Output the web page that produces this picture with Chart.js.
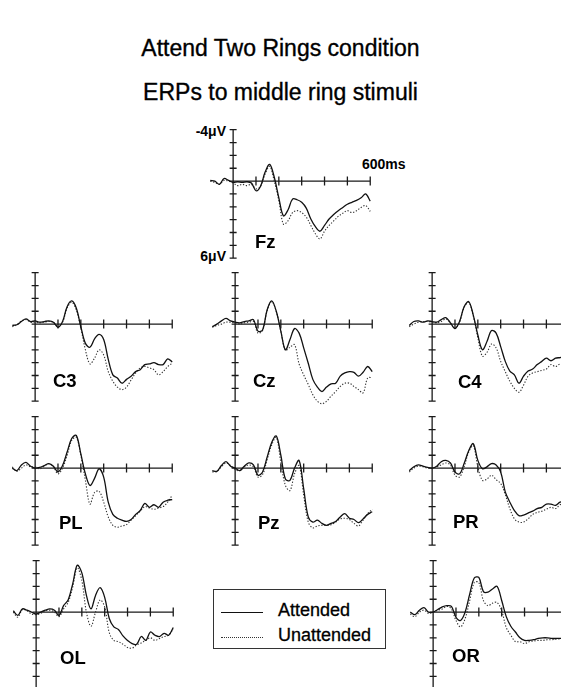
<!DOCTYPE html>
<html>
<head>
<meta charset="utf-8">
<script src="https://cdn.jsdelivr.net/npm/chart.js@4/dist/chart.umd.min.js"></script>
<style>
  html, body { margin:0; padding:0; background:#fff; }
  body { width:561px; height:687px; overflow:hidden; position:relative;
         font-family:"Liberation Sans", Arial, Helvetica, sans-serif; color:#000; }
  .t { position:absolute; white-space:nowrap; line-height:1; }
  canvas { position:absolute; }
  .title { left:0; width:561px; text-align:center; font-size:23px; -webkit-text-stroke:0.35px #000; }
  .lab { font-size:18.5px; font-weight:bold; }
  .unit { font-size:14px; font-weight:bold; }
  #legend { position:absolute; left:213px; top:589px; width:171px; height:58px; border:1.3px solid #333; }
  .ls { position:absolute; left:7px; width:42px; height:0; }
  .lt { font-size:18px; -webkit-text-stroke:0.3px #000; }
</style>
</head>
<body>
<div class="t title" style="top:37px">Attend Two Rings condition</div>
<div class="t title" style="top:81px">ERPs to middle ring stimuli</div>

<div class="t unit" style="right:335px; top:124px">-4μV</div>
<div class="t unit" style="right:335px; top:249px">6μV</div>
<div class="t unit" style="left:362px; top:157px">600ms</div>

<div id="legend">
  <div class="ls" style="top:22px; border-top:1.3px solid #111"></div>
  <div class="t lt" style="left:64px; top:11px">Attended</div>
  <div class="ls" style="top:47px; border-top:1.2px dotted #333"></div>
  <div class="t lt" style="left:64px; top:36px">Unattended</div>
</div>

<script>
// ---- data (time in ms, amplitude in µV; negative plotted up) ----
const TIMES = [-100,-80,-60,-40,-20,0,20,40,60,80,100,120,140,160,180,200,220,240,260,280,300,320,340,360,380,400,420,440,460,480,500,520,540,560,580,600];
const X_TICKS = [100,200,300,400,500,600];
const Y_TICKS = [-4,-3,-2,-1,0,1,2,3,4,5,6];
const SERIES = ["Attended","Unattended"];

const FZ_ATT = [-0.05,0,0.25,-0.2,-0.05,0.1,0.05,0.1,0.05,0.15,0.75,0.4,-0.7,-1.3,-0.3,1.3,2.7,2.25,1.4,1.45,1.65,2.1,2.95,3.55,3.9,3.45,2.95,2.6,2.3,2.05,1.8,1.65,1.5,1.3,1.0,1.55];
const FZ_UN  = [0,0.1,0.25,-0.05,0,0.15,0.35,0.25,0.35,0.25,0.6,0.4,-0.55,-1.15,0,1.5,3.35,3.1,2.45,2.3,2.45,2.8,3.45,4.1,4.5,3.9,3.45,3.1,2.75,2.5,2.3,2.45,2.3,2.05,1.9,2.35];

const C3_ATT = [0.1,0.05,-0.2,-0.4,-0.2,-0.25,-0.15,-0.2,-0.25,-0.15,0.25,-0.2,-1.35,-1.8,-1.25,0.2,1.5,1.8,1.15,0.8,1.2,2.75,3.95,4.2,4.6,4.3,4.05,3.7,3.55,3.15,3.1,3.0,3.15,3.15,2.7,2.95];
const C3_UN  = [0.2,0.05,-0.25,-0.35,-0.15,-0.15,-0.1,-0.15,-0.2,-0.15,0.2,-0.15,-1.25,-1.7,-1.1,0.3,2.0,3.1,2.65,2.0,2.4,3.7,4.45,4.9,5.1,4.9,4.35,3.8,3.4,3.3,3.4,3.55,3.95,3.7,3.3,3.05];

const CZ_ATT = [0.2,0,-0.25,-0.45,-0.25,-0.15,-0.1,-0.2,-0.25,-0.35,0.55,0.45,-1.1,-1.8,-1.0,0.55,2.0,1.2,0.35,0.7,1.85,3.05,4.3,4.9,5.25,4.9,4.65,4.6,4.05,3.8,3.7,3.75,4.05,3.75,3.3,3.7];
const CZ_UN  = [0.25,0.1,0,-0.15,-0.15,-0.1,0,-0.1,-0.15,-0.2,0.7,0.5,-1.05,-1.75,-1.0,0.55,2.05,1.8,1.6,3.1,3.95,4.7,5.5,6.0,6.2,6.0,5.6,5.25,4.85,4.6,4.6,4.85,5.1,5.35,4.2,4.15];

const C4_ATT = [0.1,-0.2,-0.25,-0.15,-0.25,-0.2,-0.15,-0.35,-0.5,-0.1,0.35,-0.2,-1.35,-1.75,-0.7,0.85,2.0,1.35,0.5,0.7,1.75,2.9,3.65,3.95,4.6,4.05,3.65,3.5,3.15,2.9,2.65,2.85,2.65,2.6,2.5,2.45];
const C4_UN  = [0.2,0,-0.15,-0.2,-0.2,-0.15,-0.1,-0.2,-0.4,-0.1,0.3,-0.15,-1.3,-1.7,-0.65,1.05,2.5,2.2,1.55,1.85,2.9,3.7,4.45,5.0,5.3,4.75,4.05,3.8,3.7,3.6,3.5,3.15,3.3,3.1,3.15,3.05];

const PL_ATT = [0,0.2,-0.25,-0.45,-0.15,0,-0.05,-0.2,-0.35,-0.15,0.3,-0.2,-1.25,-2.3,-2.55,-1.1,0.45,1.35,0.8,0.05,0.7,2.65,3.6,3.9,4.05,4.15,4.0,3.6,3.3,2.75,3.05,2.85,3.05,2.65,2.5,2.45];
const PL_UN  = [-0.1,0.25,0,-0.25,-0.1,-0.1,0.05,-0.15,-0.35,-0.1,0.45,0,-1.0,-2.15,-2.4,-1.0,0.95,2.8,1.9,1.8,2.65,3.8,4.45,4.6,4.5,4.4,4.05,3.7,3.35,3.0,3.1,3.2,3.1,3.0,2.65,2.1];

const PZ_ATT = [0.2,0.25,-0.2,-0.5,-0.15,0,0.2,-0.15,-0.4,-0.25,0.55,0.3,-0.85,-2.0,-2.5,-1.0,0.85,0.95,0,-0.6,1.6,3.8,4.2,4.05,4.3,4.45,4.3,4.15,3.8,3.55,3.9,4.0,4.25,3.95,3.6,3.4];
const PZ_UN  = [0.3,0.25,-0.1,-0.4,-0.2,0.1,0.2,-0.1,-0.25,-0.1,0.7,0.5,-0.65,-1.8,-2.4,-0.45,1.35,1.75,0.45,-0.2,2.1,4.2,4.65,4.5,4.45,4.45,4.4,4.2,3.95,3.9,4.0,4.3,4.5,4.05,3.55,3.2];

const PR_ATT = [0.2,-0.1,-0.25,-0.15,-0.05,0,-0.15,-0.5,-0.6,-0.4,0.3,0.45,-0.35,-1.35,-1.9,-0.6,0.05,-0.1,-0.35,-0.25,0.3,1.85,2.65,3.3,3.7,3.65,3.5,3.35,3.15,3.05,2.8,2.8,2.9,2.65,2.6,2.5];
const PR_UN  = [0.3,0,-0.15,-0.1,0,0,-0.1,-0.25,-0.4,-0.25,0.55,0.7,-0.1,-1.25,-1.75,-0.1,0.95,0.85,0.55,0.9,1.2,2.05,3.15,3.95,4.2,4.2,3.95,3.6,3.45,3.35,3.2,3.05,3.15,2.85,2.75,2.7];

const OL_ATT = [-0.1,0.25,-0.25,-0.15,0,0.15,0,-0.15,-0.25,-0.15,0.25,-0.5,-0.95,-2.2,-3.65,-3.05,-1.3,-0.25,-1.3,-1.9,-1.15,0.5,1.15,1.35,1.85,2.2,2.45,2.5,1.9,2.2,1.55,1.8,1.9,1.65,1.8,1.2];
const OL_UN  = [0,0.4,-0.2,-0.1,0.15,0.2,0.1,-0.1,-0.15,0,0.35,-0.25,-0.75,-1.95,-3.45,-2.45,0,1.1,0,-0.95,-0.4,1.6,2.2,2.3,2.5,2.75,2.8,2.55,2.4,2.2,2.0,2.2,2.05,1.9,1.8,1.3];

const OR_ATT = [0,0.2,-0.15,-0.35,0,0,-0.2,-0.4,-0.5,-0.45,0.4,0.65,0,-1.4,-2.65,-2.7,-1.6,-1.55,-1.8,-2.0,-0.9,0.35,1.1,1.55,2.0,2.2,2.2,2.15,2.05,2.0,2.0,2.05,2.05,2.05,2.05,2.05];
const OR_UN  = [0.15,0.35,0,-0.15,0.1,0,-0.15,-0.25,-0.45,-0.25,0.65,1.15,0.5,-0.9,-2.3,-2.3,-0.9,-0.5,-0.7,-0.75,-0.1,1.2,1.8,2.3,2.3,2.45,2.3,2.25,2.2,2.2,2.15,2.15,2.1,2.1,2.1,2.1];

// ---- layout (pixel origin of each panel's axes and label position) ----
const PANELS = [
  {name:"Fz", att:FZ_ATT, un:FZ_UN, ox:233, oy:181, lx:255, lb:249},
  {name:"C3", att:C3_ATT, un:C3_UN, ox:35,  oy:324, lx:53,  lb:388},
  {name:"Cz", att:CZ_ATT, un:CZ_UN, ox:235, oy:324, lx:253, lb:388},
  {name:"C4", att:C4_ATT, un:C4_UN, ox:432, oy:324, lx:458, lb:389},
  {name:"PL", att:PL_ATT, un:PL_UN, ox:35,  oy:468, lx:59,  lb:530},
  {name:"Pz", att:PZ_ATT, un:PZ_UN, ox:235, oy:468, lx:258, lb:530},
  {name:"PR", att:PR_ATT, un:PR_UN, ox:432, oy:468, lx:453, lb:529},
  {name:"OL", att:OL_ATT, un:OL_UN, ox:36,  oy:612, lx:60,  lb:665},
  {name:"OR", att:OR_ATT, un:OR_UN, ox:433, oy:612, lx:452, lb:663}
];
const KX = 0.2285, KY = 12.85;          // px per ms, px per µV
const XMIN = -110, YTOP = -4.6;
const CW = 168, CH = 146;

const axesPlugin = {
  id: "erpAxes",
  beforeDatasetsDraw(chart) {
    const {ctx, scales:{x, y}} = chart;
    const x0 = x.getPixelForValue(0), y0 = y.getPixelForValue(0);
    ctx.save();
    ctx.strokeStyle = "#1a1a1a";
    ctx.lineWidth = 1.3;
    ctx.beginPath();
    ctx.moveTo(x0, y.getPixelForValue(Y_TICKS[0]));
    ctx.lineTo(x0, y.getPixelForValue(Y_TICKS[Y_TICKS.length-1]));
    ctx.moveTo(x0, y0);
    ctx.lineTo(x.getPixelForValue(X_TICKS[X_TICKS.length-1]), y0);
    for (const v of Y_TICKS) {
      const py = y.getPixelForValue(v);
      ctx.moveTo(x0-3.5, py); ctx.lineTo(x0+3.5, py);
    }
    for (const t of X_TICKS) {
      const px = x.getPixelForValue(t);
      ctx.moveTo(px, y0-4.5); ctx.lineTo(px, y0+4.5);
    }
    ctx.stroke();
    ctx.restore();
  }
};

function pts(arr){ return TIMES.map((t,i)=>({x:t, y:arr[i]})); }

for (const p of PANELS) {
  const cv = document.createElement("canvas");
  cv.width = CW; cv.height = CH;
  cv.style.width = CW+"px"; cv.style.height = CH+"px";
  cv.style.left = (p.ox + XMIN*KX) + "px";
  cv.style.top  = (p.oy + YTOP*KY) + "px";
  document.body.appendChild(cv);

  new Chart(cv.getContext("2d"), {
    type: "line",
    data: { datasets: [
      { label: SERIES[0], data: pts(p.att), borderColor:"#111", borderWidth:1.3, tension:0.35, pointRadius:0, fill:false },
      { label: SERIES[1], data: pts(p.un),  borderColor:"#333", borderWidth:1.1, borderDash:[1.3,1.7], tension:0.35, pointRadius:0, fill:false }
    ]},
    options: {
      responsive:false, animation:false, devicePixelRatio:1,
      layout:{ padding:0 },
      plugins:{ legend:{display:false}, tooltip:{enabled:false} },
      scales:{
        x:{ type:"linear", display:false, min:XMIN, max:XMIN + CW/KX },
        y:{ type:"linear", display:false, reverse:true, min:YTOP, max:YTOP + CH/KY }
      }
    },
    plugins:[axesPlugin]
  });

  const lab = document.createElement("div");
  lab.className = "t lab";
  lab.textContent = p.name;
  lab.style.left = p.lx + "px";
  lab.style.top = (p.lb - 0.8465*18.5) + "px";
  document.body.appendChild(lab);
}
</script>
</body>
</html>
